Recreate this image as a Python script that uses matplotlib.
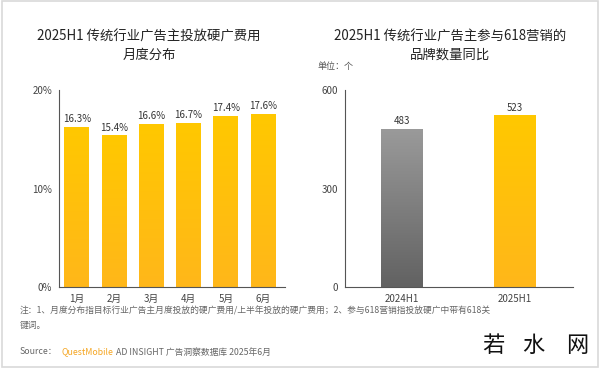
import numpy as np
import matplotlib.pyplot as plt
from matplotlib.patches import Rectangle
from matplotlib.colors import to_rgb

plt.rcParams['font.family'] = ['Noto Sans CJK SC', 'DejaVu Sans']

months = ['1月', '2月', '3月', '4月', '5月', '6月']
share = [16.3, 15.4, 16.6, 16.7, 17.4, 17.6]
periods = ['2024H1', '2025H1']
brands = [483, 523]

yellow_grad = ('#FFC800', '#FFB71A')
gray_grad = ('#9A9A9A', '#626262')


def grad_bars(ax, x, h, w, cols):
    # bar drawn as a vertical gradient image clipped by the bar rectangle
    bars = ax.bar(x, h, width=w, color='none', zorder=2)
    for b, (top, bot) in zip(bars, cols):
        g = np.linspace(0, 1, 64).reshape(64, 1, 1)
        c1 = np.array(to_rgb(top))
        c2 = np.array(to_rgb(bot))
        img = c1 + (c2 - c1) * g
        bx, by = b.get_x(), b.get_y()
        im = ax.imshow(img, extent=[bx, bx + b.get_width(), by, by + b.get_height()],
                       aspect='auto', zorder=2, origin='upper')
        im.set_clip_path(b)
    return bars


fig = plt.figure(figsize=(6, 3.68), dpi=100)
fig.patches.append(Rectangle((0.003, 0.003), 0.994, 0.994, transform=fig.transFigure,
                             fill=False, ec='#d9d9d9', lw=1.2))

# left chart
ax1 = fig.add_axes([59 / 600, 0.220, 226 / 600, 0.535])
x1 = np.arange(len(months))
grad_bars(ax1, x1, share, 0.67, [yellow_grad] * len(share))
for xi, v in zip(x1, share):
    ax1.text(xi, v + 0.25, f'{v}%', ha='center', va='bottom', fontsize=7, color='#333333')
ax1.set_xlim(-0.48, 5.59)
ax1.set_ylim(0, 20)
ax1.set_yticks([0, 10, 20])
ax1.set_yticklabels(['0%', '10%', '20%'])
ax1.set_xticks(x1)
ax1.set_xticklabels(months)

# right chart
ax2 = fig.add_axes([345 / 600, 0.220, 228 / 600, 0.535])
x2 = np.arange(len(periods))
grad_bars(ax2, x2, brands, 0.37, [gray_grad, yellow_grad])
for xi, v in zip(x2, brands):
    ax2.text(xi, v + 8, str(v), ha='center', va='bottom', fontsize=7, color='#333333')
ax2.set_xlim(-0.5, 1.51)
ax2.set_ylim(0, 600)
ax2.set_yticks([0, 300, 600])
ax2.set_xticks(x2)
ax2.set_xticklabels(periods)
fig.text(317 / 600, 1 - 67 / 368, '单位：个', fontsize=6.5, color='#555555', va='center')

# titles
for cx, lines in [(149, ['2025H1 传统行业广告主投放硬广费用', '月度分布']),
                  (450, ['2025H1 传统行业广告主参与618营销的', '品牌数量同比'])]:
    for cy, t in zip([37, 55], lines):
        fig.text(cx / 600, 1 - cy / 368, t, fontsize=9.6, color='#222222',
                 ha='center', va='center')

for ax in (ax1, ax2):
    for s in ('top', 'right'):
        ax.spines[s].set_visible(False)
    ax.spines['left'].set_color('#555555')
    ax.spines['bottom'].set_color('#555555')
    ax.spines['left'].set_linewidth(0.8)
    ax.spines['bottom'].set_linewidth(0.8)
    ax.tick_params(length=0, labelsize=7, colors='#444444', pad=5)

# notes
fig.text(20 / 600, 1 - 311 / 368,
         '注：1、月度分布指目标行业广告主月度投放的硬广费用/上半年投放的硬广费用；2、参与618营销指投放硬广中带有618关',
         fontsize=6.3, color='#666666', va='center')
fig.text(20 / 600, 1 - 325 / 368, '键词。', fontsize=6.3, color='#666666', va='center')
fig.text(20 / 600, 1 - 352 / 368, 'Source：', fontsize=6.3, color='#666666', va='center')
fig.text(61 / 600, 1 - 352 / 368, 'QuestMobile', fontsize=6.3, color='#F5A623', va='center')
fig.text(116 / 600, 1 - 352 / 368, 'AD INSIGHT 广告洞察数据库 2025年6月', fontsize=6.3,
         color='#666666', va='center')

# site watermark
for cx, ch in zip([493, 533, 577], '若水网'):
    fig.text(cx / 600, 1 - 345 / 368, ch, fontsize=16, color='#111111', va='center',
             ha='center')

fig.savefig('out.png', dpi=100)
